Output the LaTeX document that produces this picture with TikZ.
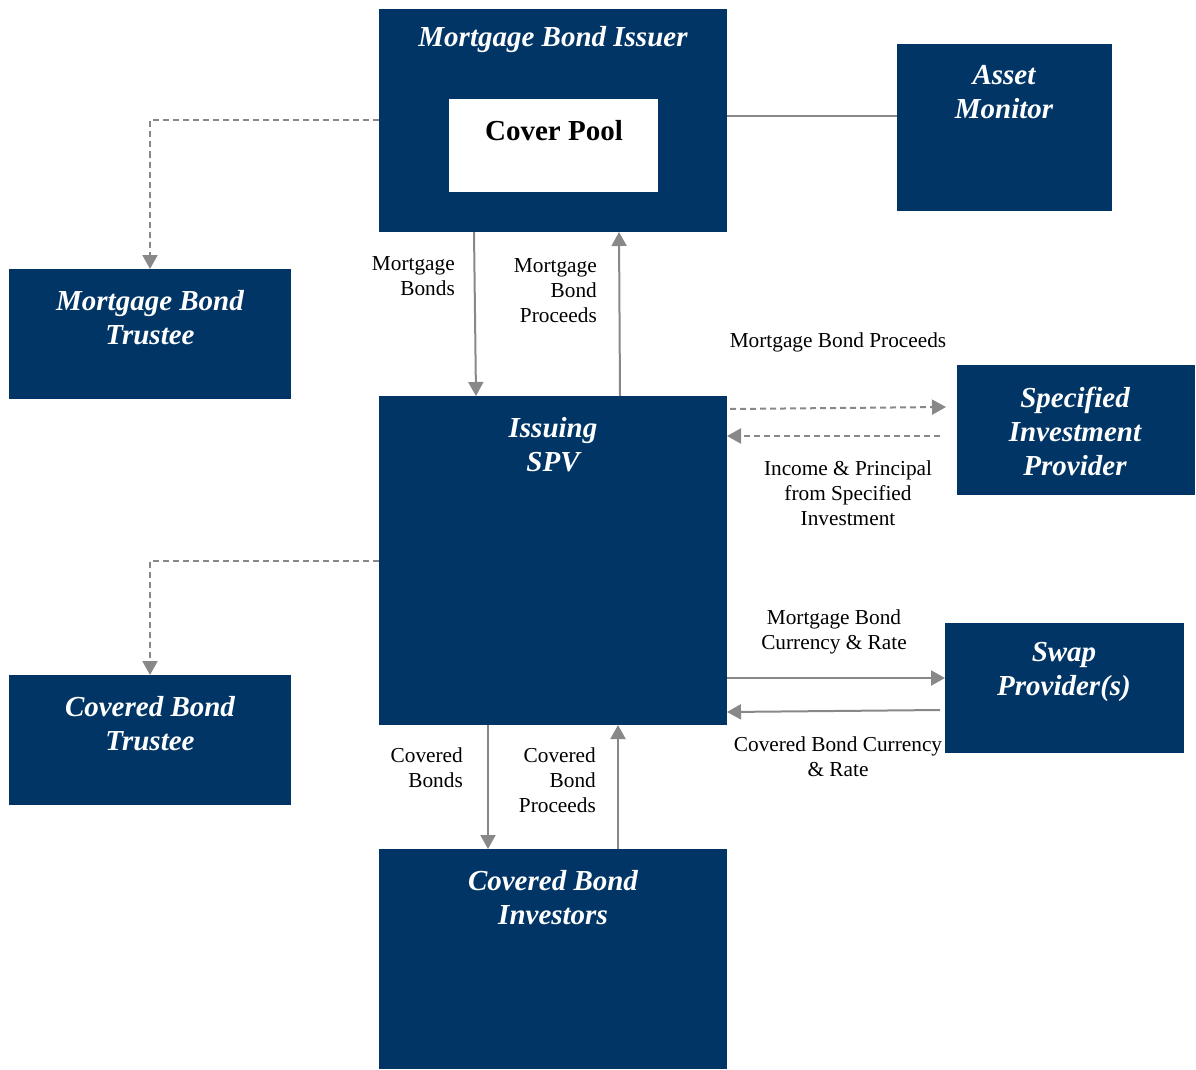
\documentclass[tikz,border=0pt]{standalone}
\usepackage{fontspec}
\setmainfont{Liberation Serif}
\usetikzlibrary{arrows.meta}
\definecolor{navy}{RGB}{0,53,102}
\definecolor{lgray}{RGB}{136,136,136}
\begin{document}
\begin{tikzpicture}[x=1pt,y=-1pt,
  box/.style={fill=navy,draw=none,inner sep=0pt,outer sep=0pt},
  ttl/.style={text=white,font=\fontsize{29}{34}\selectfont\bfseries\itshape,align=center,inner sep=0pt},
  lbl/.style={font=\fontsize{21.3}{25}\selectfont,inner sep=0pt},
  conn/.style={draw=lgray,line width=2pt},
  arr/.style={conn,-{Triangle[length=14pt 0,width=15pt 0]}},
  darr/.style={arr,dash pattern=on 6pt off 4pt},
  dline/.style={conn,dash pattern=on 6pt off 4pt}]
\useasboundingbox (0,0) rectangle (1196,1070);
% boxes
\node[box,minimum width=348,minimum height=223] (issuer) at (553,120.5) {};
\node[fill=white,inner sep=0pt,minimum width=209,minimum height=93] (pool) at (553.5,145.5) {};
\node[box,minimum width=215,minimum height=167] (monitor) at (1004.5,127.5) {};
\node[box,minimum width=282,minimum height=130] (mbt) at (150,334) {};
\node[box,minimum width=348,minimum height=329] (spv) at (553,560.5) {};
\node[box,minimum width=238,minimum height=130] (sip) at (1076,430) {};
\node[box,minimum width=282,minimum height=130] (cbt) at (150,740) {};
\node[box,minimum width=239,minimum height=130] (swap) at (1064.5,688) {};
\node[box,minimum width=348,minimum height=220] (inv) at (553,959) {};
% titles
\node[ttl] (tissuer) at (553,40) {Mortgage Bond Issuer};
\node[inner sep=0pt,font=\fontsize{29}{34}\selectfont\bfseries] (tpool) at (554,131) {Cover Pool};
\node[ttl] (tmonitor) at (1004,92) {Asset\\Monitor};
\node[ttl] (tmbt) at (150,318) {Mortgage Bond\\Trustee};
\node[ttl] (tspv) at (553,445) {Issuing\\SPV};
\node[ttl] (tsip) at (1075,431) {Specified\\Investment\\Provider};
\node[ttl] (tcbt) at (150,724) {Covered Bond\\Trustee};
\node[ttl] (tswap) at (1064,672) {Swap\\Provider(s)};
\node[ttl] (tinv) at (553,898) {Covered Bond\\Investors};
% labels
\node[lbl,align=right,anchor=east] (l1) at (455,276) {Mortgage\\Bonds};
\node[lbl,align=right,anchor=east] (l2) at (597,291) {Mortgage\\Bond\\Proceeds};
\node[lbl] (l3) at (838,342) {Mortgage Bond Proceeds};
\node[lbl,align=center] (l4) at (848,493) {Income \& Principal\\from Specified\\Investment};
\node[lbl,align=center] (l5) at (834,632) {Mortgage Bond\\Currency \& Rate};
\node[lbl,align=center] (l6) at (838,757) {Covered Bond Currency\\\& Rate};
\node[lbl,align=right,anchor=east] (l7) at (463,768) {Covered\\Bonds};
\node[lbl,align=right,anchor=east] (l8) at (596,780) {Covered\\Bond\\Proceeds};
% connectors
\draw[conn] (issuer.east |- 0,116) -- (monitor.west |- 0,116);
\draw[darr] (issuer.west) -| (mbt.north);
\draw[darr] (spv.west) -| (cbt.north);
\draw[arr] (474,0 |- issuer.south) -- (476,0 |- spv.north);
\draw[arr] (620,0 |- spv.north) -- (619,0 |- issuer.south);
\draw[darr] ([xshift=3pt]spv.east |- 0,409) -- ([xshift=-11pt]sip.west |- 0,407);
\draw[darr] ([xshift=-17pt]sip.west |- 0,436) -- (spv.east |- 0,436);
\draw[arr] (spv.east |- 0,678) -- (swap.west |- 0,678);
\draw[arr] ([xshift=-5pt]swap.west |- 0,710) -- (spv.east |- 0,712);
\draw[arr] (488,0 |- spv.south) -- (488,0 |- inv.north);
\draw[arr] (618,0 |- inv.north) -- (618,0 |- spv.south);
\end{tikzpicture}
\end{document}
